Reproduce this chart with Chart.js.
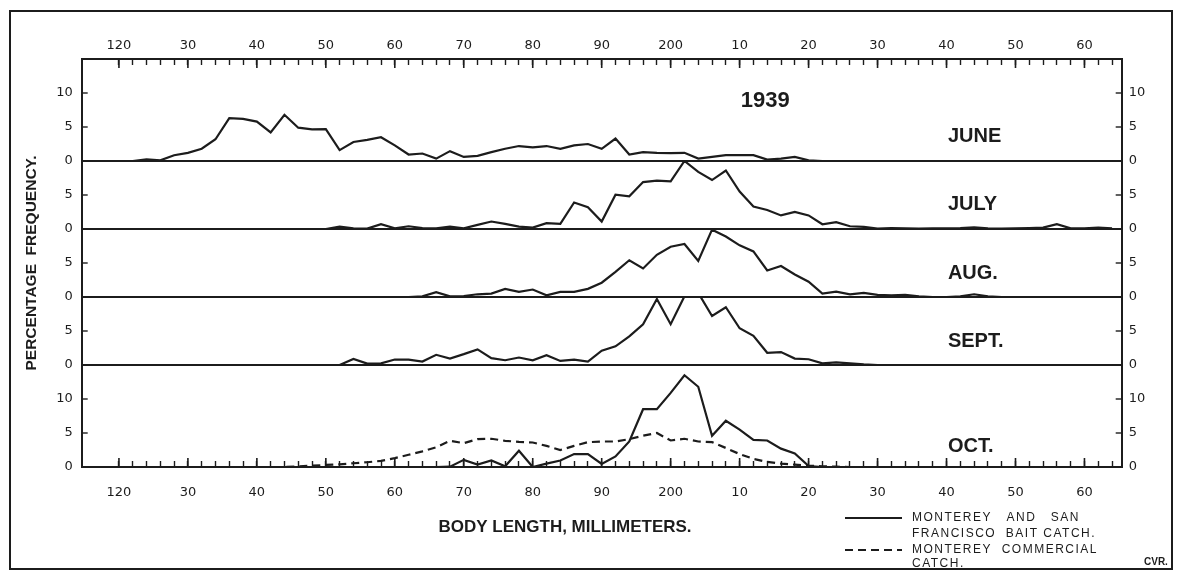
<!DOCTYPE html>
<html>
<head>
<meta charset="utf-8">
<script src="https://cdn.jsdelivr.net/npm/chart.js@4.4.1/dist/chart.umd.min.js"></script>
<style>
  html, body { margin: 0; padding: 0; background: #fff; }
  #wrap { position: relative; width: 1185px; height: 571px; overflow: hidden; }
  #wrap canvas { position: absolute; left: 0; top: 0; }
  #frame { position: absolute; left: 9px; top: 10px; width: 1160px; height: 556px; border: 2px solid #1c1c1c; pointer-events: none; }
</style>
</head>
<body>
<div id="wrap">
  <canvas id="chart" width="1185" height="571"></canvas>
  <div id="frame"></div>
</div>
<script>
// body length classes (mm)
const lengths = [
  116, 118, 120, 122, 124, 126, 128, 130, 132, 134, 136, 138, 140, 142, 144, 146, 148, 150, 152, 154,
  156, 158, 160, 162, 164, 166, 168, 170, 172, 174, 176, 178, 180, 182, 184, 186, 188, 190, 192, 194,
  196, 198, 200, 202, 204, 206, 208, 210, 212, 214, 216, 218, 220, 222, 224, 226, 228, 230, 232, 234,
  236, 238, 240, 242, 244, 246, 248, 250, 252, 254, 256, 258, 260, 262, 264
];

// percentage frequency, 1939
const june = [
  0, 0, 0, 0, 0.25, 0.1, 0.85, 1.2, 1.8, 3.2, 6.3, 6.2, 5.8, 4.2, 6.8, 4.9, 4.65, 4.7, 1.6, 2.8,
  3.1, 3.5, 2.3, 0.95, 1.1, 0.35, 1.45, 0.6, 0.75, 1.3, 1.8, 2.2, 2.0, 2.2, 1.8, 2.3, 2.5, 1.8, 3.3, 0.95,
  1.3, 1.2, 1.15, 1.2, 0.35, 0.6, 0.85, 0.85, 0.85, 0.2, 0.35, 0.6, 0.1, 0, 0, 0, 0, 0, 0, 0,
  0, 0, 0, 0, 0, 0, 0, 0, 0, 0, 0, 0, 0, 0, 0
];
const july = [
  0, 0, 0, 0, 0, 0, 0, 0, 0, 0, 0, 0, 0, 0, 0, 0, 0, 0, 0.35, 0.1,
  0.05, 0.7, 0.1, 0.4, 0.15, 0.1, 0.35, 0.1, 0.6, 1.1, 0.75, 0.35, 0.2, 0.85, 0.75, 3.9, 3.2, 1.1, 5.05, 4.8,
  6.9, 7.1, 7.0, 10, 8.4, 7.2, 8.6, 5.5, 3.3, 2.8, 2.0, 2.5, 2.0, 0.7, 1.0, 0.4, 0.3, 0.05, 0.15, 0.1,
  0.05, 0.1, 0.1, 0.15, 0.25, 0.1, 0.05, 0.1, 0.15, 0.2, 0.7, 0.1, 0.1, 0.2, 0.1
];
const august = [
  0, 0, 0, 0, 0, 0, 0, 0, 0, 0, 0, 0, 0, 0, 0, 0, 0, 0, 0, 0,
  0, 0, 0, 0, 0.1, 0.7, 0.1, 0.15, 0.4, 0.5, 1.2, 0.75, 1.1, 0.25, 0.75, 0.75, 1.2, 2.1, 3.7, 5.4,
  4.2, 6.2, 7.4, 7.8, 5.3, 9.9, 8.9, 7.6, 6.7, 3.9, 4.55, 3.3, 2.25, 0.5, 0.8, 0.4, 0.6, 0.3, 0.25, 0.3,
  0.1, 0, 0, 0.1, 0.4, 0.1, 0, 0, 0, 0, 0, 0, 0, 0, 0
];
const september = [
  0, 0, 0, 0, 0, 0, 0, 0, 0, 0, 0, 0, 0, 0, 0, 0, 0, 0, 0, 0.9,
  0.2, 0.25, 0.8, 0.8, 0.5, 1.5, 0.95, 1.6, 2.3, 1.0, 0.7, 1.1, 0.7, 1.45, 0.6, 0.8, 0.5, 2.1, 2.75, 4.2,
  6.0, 9.7, 6.0, 10.1, 10.6, 7.2, 8.5, 5.4, 4.3, 1.8, 1.9, 0.95, 0.85, 0.25, 0.4, 0.25, 0.1, 0, 0, 0,
  0, 0, 0, 0, 0, 0, 0, 0, 0, 0, 0, 0, 0, 0, 0
];
const octoberBait = [
  0, 0, 0, 0, 0, 0, 0, 0, 0, 0, 0, 0, 0, 0, 0, 0, 0, 0, 0, 0,
  0, 0, 0, 0, 0, 0, 0.05, 1.05, 0.35, 0.95, 0.1, 2.4, 0, 0.5, 0.95, 1.9, 1.9, 0.45, 1.55, 3.75,
  8.5, 8.5, 10.9, 13.5, 11.8, 4.6, 6.8, 5.5, 4.0, 3.9, 2.7, 2.0, 0.15, 0, 0, 0, 0, 0, 0, 0,
  0, 0, 0, 0, 0, 0, 0, 0, 0, 0, 0, 0, 0, 0, 0
];
const octoberCommercial = [
  0, 0, 0, 0, 0, 0, 0, 0, 0, 0, 0, 0, 0, 0, 0, 0.1, 0.2, 0.3, 0.4, 0.55,
  0.7, 0.9, 1.3, 1.8, 2.3, 2.9, 3.85, 3.5, 4.1, 4.15, 3.85, 3.7, 3.6, 3.1, 2.5, 3.1, 3.65, 3.75, 3.75, 4.1,
  4.6, 5.0, 3.9, 4.15, 3.75, 3.65, 2.8, 1.9, 1.2, 0.75, 0.5, 0.35, 0.2, 0.1, 0.05, 0, 0, 0, 0, 0,
  0, 0, 0, 0, 0, 0, 0, 0, 0, 0, 0, 0, 0, 0, 0
];

// axes
const xTickValues = [120, 130, 140, 150, 160, 170, 180, 190, 200, 210, 220, 230, 240, 250, 260];
const xTickLabels = ['120', '30', '40', '50', '60', '70', '80', '90', '200', '10', '20', '30', '40', '50', '60'];
const panelNames = ['JUNE', 'JULY', 'AUG.', 'SEPT.', 'OCT.'];
const panelIds = ['yJun', 'yJul', 'yAug', 'ySep', 'yOct'];
const panelMax = [15, 10, 10, 10, 15];
const panelTicks = [[0, 5, 10], [0, 5], [0, 5], [0, 5], [0, 5, 10]];

const ink = '#1c1c1c';
const xMin = 114.6, xMax = 265.4;
const tickFont = { family: 'DejaVu Sans', size: 13 };

const minorTicks = [];
for (let v = 120; v <= 264; v += 2) minorTicks.push(v);

function xAxis(pos) {
  return {
    type: 'linear',
    position: pos,
    min: xMin,
    max: xMax,
    afterBuildTicks: s => { s.ticks = minorTicks.map(v => ({ value: v })); },
    afterFit: s => { s.height = pos === 'top' ? 24 : 32; },
    grid: { drawOnChartArea: false, tickLength: -6, tickColor: ink, tickWidth: 1.4 },
    border: { display: true, color: ink, width: 2 },
    ticks: {
      autoSkip: false, maxRotation: 0, color: ink, font: tickFont,
      padding: pos === 'top' ? 12 : 24,
      callback: v => {
        const i = xTickValues.indexOf(v);
        return i >= 0 ? xTickLabels[i] : '';
      }
    }
  };
}

function panelAxis(pos, i) {
  const left = pos === 'left';
  return {
    type: 'linear',
    position: pos,
    stack: pos,
    stackWeight: panelMax[i],
    weight: left ? 50 - i * 10 : i + 1,
    min: 0,
    max: panelMax[i],
    afterBuildTicks: s => { s.ticks = panelTicks[i].map(v => ({ value: v })); },
    afterFit: s => { s.width = left ? 36 : 30; },
    grid: {
      drawOnChartArea: left,
      color: c => (c.tick && c.tick.value === 0 ? ink : 'rgba(0,0,0,0)'),
      lineWidth: 2,
      tickLength: -6,
      tickColor: c => (c.tick && c.tick.value === 0 ? 'rgba(0,0,0,0)' : ink),
      tickWidth: 1.4
    },
    border: { display: true, color: ink, width: 2 },
    ticks: { color: ink, font: tickFont, padding: left ? 15 : 13, callback: v => String(v) }
  };
}

const scales = {
  x: xAxis('bottom'),
  x2: xAxis('top'),
  yTitle: {
    type: 'linear',
    position: 'left',
    weight: 100,
    min: 0,
    max: 1,
    afterFit: s => { s.width = 45.7; },
    ticks: { display: false },
    grid: { display: false, drawTicks: false },
    border: { display: false },
    title: {
      display: true,
      text: 'PERCENTAGE  FREQUENCY.',
      color: ink,
      font: { family: 'Liberation Sans', size: 15.5, weight: 'bold' },
      padding: { top: 22, bottom: 0 }
    }
  }
};
panelIds.forEach((id, i) => {
  scales[id] = panelAxis('left', i);
  scales[id + 'R'] = panelAxis('right', i);
});

function series(values) {
  return lengths.map((x, i) => ({ x: x, y: values[i] }));
}

const lineStyle = { borderColor: ink, borderWidth: 2.2, pointRadius: 0, tension: 0, fill: false, xAxisID: 'x' };

const datasets = [
  { ...lineStyle, label: 'June', data: series(june), yAxisID: 'yJun' },
  { ...lineStyle, label: 'July', data: series(july), yAxisID: 'yJul' },
  { ...lineStyle, label: 'Aug', data: series(august), yAxisID: 'yAug' },
  { ...lineStyle, label: 'Sept', data: series(september), yAxisID: 'ySep' },
  { ...lineStyle, label: 'MONTEREY   AND   SAN|FRANCISCO  BAIT CATCH.', data: series(octoberBait), yAxisID: 'yOct' },
  { ...lineStyle, label: 'MONTEREY  COMMERCIAL|CATCH.', data: series(octoberCommercial), yAxisID: 'yOct', borderDash: [8, 5] }
];

// month names, year, longer 10 mm ticks, axis title and key
const annotations = {
  id: 'annotations',
  afterDraw(chart) {
    const { ctx, chartArea, scales: s } = chart;
    const x = s.x;
    ctx.save();
    ctx.fillStyle = ink;
    ctx.strokeStyle = ink;

    ctx.lineWidth = 1.6;
    xTickValues.forEach(v => {
      const px = x.getPixelForValue(v);
      ctx.beginPath();
      ctx.moveTo(px, chartArea.top);
      ctx.lineTo(px, chartArea.top + 9);
      ctx.moveTo(px, chartArea.bottom);
      ctx.lineTo(px, chartArea.bottom - 9);
      ctx.stroke();
    });

    ctx.textBaseline = 'middle';
    ctx.textAlign = 'left';
    ctx.font = 'bold 20px "Liberation Sans"';
    const levels = [3.6, 3.6, 3.5, 3.5, 3.0];
    panelNames.forEach((name, i) => {
      ctx.fillText(name, x.getPixelForValue(240.2), s[panelIds[i]].getPixelForValue(levels[i]));
    });

    ctx.textAlign = 'center';
    ctx.font = 'bold 22px "Liberation Sans"';
    ctx.fillText('1939', x.getPixelForValue(213.7), s.yJun.getPixelForValue(8.9));

    ctx.font = 'bold 17px "Liberation Sans"';
    ctx.fillText('BODY LENGTH, MILLIMETERS.', 565, 527);

    // key
    ctx.textAlign = 'left';
    ctx.font = '12px "Liberation Sans"';
    ctx.letterSpacing = '1.5px';
    const keyRows = [[518, 534], [550, 564]];
    [datasets[4], datasets[5]].forEach((d, k) => {
      const [y1, y2] = keyRows[k];
      ctx.lineWidth = 2;
      ctx.setLineDash(d.borderDash || []);
      ctx.beginPath();
      ctx.moveTo(845, y1);
      ctx.lineTo(902, y1);
      ctx.stroke();
      ctx.setLineDash([]);
      const parts = d.label.split('|');
      ctx.fillText(parts[0], 912, y1);
      ctx.fillText(parts[1], 912, y2);
    });

    ctx.font = 'bold 10px "Liberation Sans"';
    ctx.letterSpacing = '0px';
    ctx.fillText('CVR.', 1144, 562);
    ctx.restore();
  }
};

new Chart(document.getElementById('chart'), {
  type: 'line',
  data: { datasets: datasets },
  options: {
    responsive: false,
    animation: false,
    devicePixelRatio: 1,
    layout: { padding: { left: 0, right: 33.3, top: 35, bottom: 72 } },
    plugins: { legend: { display: false }, tooltip: { enabled: false } },
    scales: scales
  },
  plugins: [annotations]
});
</script>
</body>
</html>
